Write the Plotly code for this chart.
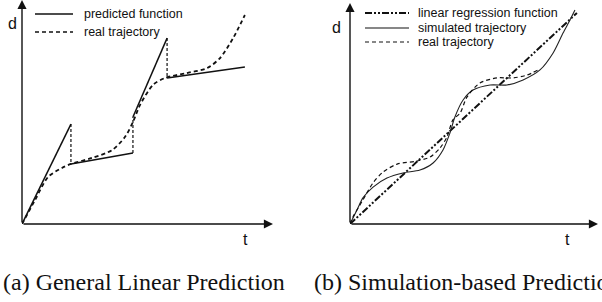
import plotly.graph_objects as go

# ---------------- data (a) General Linear Prediction ----------------
pred_t_start = [0.0, 1.95, 4.42, 5.78]
pred_d_start = [0.0, 2.68, 4.78, 6.52]
pred_t_end = [1.95, 4.42, 5.78, 8.88]
pred_d_end = [4.46, 3.17, 8.30, 7.01]

real_a_t = [0.0, 0.52, 1.04, 1.59, 1.95, 2.79, 3.59, 4.10, 4.42, 4.70, 5.22, 5.70,
            6.57, 7.37, 7.89, 8.41, 8.88]
real_a_d = [0.0, 1.07, 2.10, 2.50, 2.68, 2.95, 3.30, 3.88, 4.55, 5.31, 6.21, 6.52,
            6.74, 6.96, 7.41, 8.30, 9.33]

# ---------------- data (b) Simulation-based Prediction ----------------
lin_t = [0.0, 9.15]
lin_d = [0.0, 9.55]

sim_t = [0.0, 0.28, 0.52, 0.93, 1.49, 2.14, 2.82, 3.35, 3.75, 4.03, 4.23, 4.56, 4.96,
         5.65, 6.33, 6.98, 7.66, 8.19, 8.59, 8.87, 9.07]
sim_d = [0.0, 0.63, 1.18, 1.67, 2.08, 2.31, 2.44, 2.76, 3.35, 4.12, 4.84, 5.61, 6.06,
         6.29, 6.29, 6.52, 6.97, 7.74, 8.64, 9.23, 9.68]

real_b_t = [0.0, 0.12, 0.52, 0.93, 1.33, 1.90, 2.70, 3.23, 3.63, 3.91, 4.15, 4.44, 4.72,
            5.24, 5.93, 6.57, 7.14, 7.58]
real_b_d = [0.0, 0.32, 1.09, 1.86, 2.35, 2.71, 2.85, 3.03, 3.44, 3.94, 4.71, 5.02, 5.75,
            6.38, 6.61, 6.61, 6.74, 6.97]

legend_a = ["predicted function", "real trajectory"]
legend_b = ["linear regression function", "simulated trajectory", "real trajectory"]
captions = ["(a) General Linear Prediction", "(b) Simulation-based Prediction"]

W, H = 602, 302
def px(x):
    return x / W
def py(y):
    return 1 - y / H

fig = go.Figure()

BLACK = "#111111"
DASH = "4px,3px"

# ---- panel (a) ----
for ts, ds, te, de in zip(pred_t_start, pred_d_start, pred_t_end, pred_d_end):
    fig.add_trace(go.Scatter(x=[ts, te], y=[ds, de], mode="lines",
                             line=dict(color=BLACK, width=1.5),
                             xaxis="x", yaxis="y", showlegend=False, hoverinfo="skip"))
# vertical correction jumps
for i in range(len(pred_t_end) - 1):
    fig.add_trace(go.Scatter(x=[pred_t_end[i], pred_t_start[i + 1]],
                             y=[pred_d_end[i], pred_d_start[i + 1]], mode="lines",
                             line=dict(color=BLACK, width=1.2, dash="3px,2px"),
                             xaxis="x", yaxis="y", showlegend=False, hoverinfo="skip"))
fig.add_trace(go.Scatter(x=real_a_t, y=real_a_d, mode="lines",
                         line=dict(color=BLACK, width=1.8, dash=DASH, shape="spline", smoothing=0.8),
                         xaxis="x", yaxis="y", showlegend=False, hoverinfo="skip"))

# ---- panel (b) ----
fig.add_trace(go.Scatter(x=lin_t, y=lin_d, mode="lines",
                         line=dict(color=BLACK, width=2, dash="7px,2px,2px,2px,2px,2px"),
                         xaxis="x2", yaxis="y2", showlegend=False, hoverinfo="skip"))
fig.add_trace(go.Scatter(x=sim_t, y=sim_d, mode="lines",
                         line=dict(color="#222222", width=1.1, shape="spline", smoothing=0.8),
                         xaxis="x2", yaxis="y2", showlegend=False, hoverinfo="skip"))
fig.add_trace(go.Scatter(x=real_b_t, y=real_b_d, mode="lines",
                         line=dict(color=BLACK, width=1.2, dash=DASH, shape="spline", smoothing=0.8),
                         xaxis="x2", yaxis="y2", showlegend=False, hoverinfo="skip"))

ax_common = dict(showgrid=False, zeroline=False, showline=False, showticklabels=False,
                 ticks="", fixedrange=True)
fig.update_layout(
    width=W, height=H,
    margin=dict(l=0, r=0, t=0, b=0),
    paper_bgcolor="white", plot_bgcolor="rgba(0,0,0,0)",
    xaxis=dict(domain=[px(22), px(273)], range=[0, 10], **ax_common),
    yaxis=dict(domain=[py(224), py(0)], range=[0, 10], **ax_common),
    xaxis2=dict(domain=[px(350), px(598)], range=[0, 10], anchor="y2", **ax_common),
    yaxis2=dict(domain=[py(224), py(3)], range=[0, 10], anchor="x2", **ax_common),
    font=dict(family="Liberation Sans, Arial, sans-serif", color=BLACK),
)

annotations = []
# axis arrows
for xr, yr in [("x", "y"), ("x2", "y2")]:
    annotations.append(dict(x=10, y=0, ax=0, ay=0, xref=xr, yref=yr, axref=xr, ayref=yr,
                            showarrow=True, arrowhead=2, arrowsize=1.3, arrowwidth=1.4,
                            arrowcolor=BLACK, text="", standoff=0))
    annotations.append(dict(x=0, y=10, ax=0, ay=0, xref=xr, yref=yr, axref=xr, ayref=yr,
                            showarrow=True, arrowhead=2, arrowsize=1.3, arrowwidth=1.4,
                            arrowcolor=BLACK, text="", standoff=0))

# axis labels
for (lx, ly, txt) in [(12, 23, "d"), (245, 240, "t"), (337, 27, "d"), (567, 240, "t")]:
    annotations.append(dict(x=px(lx), y=py(ly), xref="paper", yref="paper", text=txt,
                            showarrow=False, font=dict(size=16, color=BLACK),
                            xanchor="center", yanchor="middle"))

# legends (manual)
shapes = []
leg_a_styles = [dict(color=BLACK, width=1.5), dict(color=BLACK, width=1.3, dash=DASH)]
for i, (lab, st) in enumerate(zip(legend_a, leg_a_styles)):
    yy = [14, 32][i]
    shapes.append(dict(type="line", xref="paper", yref="paper", x0=px(35), x1=px(73),
                       y0=py(yy), y1=py(yy), line=st))
    annotations.append(dict(x=px(82), y=py(yy), xref="paper", yref="paper", text=lab,
                            showarrow=False, xanchor="left", yanchor="middle",
                            font=dict(size=12.5, color=BLACK)))
leg_b_styles = [dict(color=BLACK, width=2, dash="7px,2px,2px,2px,2px,2px"),
                dict(color=BLACK, width=1.1), dict(color=BLACK, width=1.1, dash=DASH)]
for i, (lab, st) in enumerate(zip(legend_b, leg_b_styles)):
    yy = [13, 28, 42][i]
    shapes.append(dict(type="line", xref="paper", yref="paper", x0=px(365), x1=px(409),
                       y0=py(yy), y1=py(yy), line=st))
    annotations.append(dict(x=px(416), y=py(yy), xref="paper", yref="paper", text=lab,
                            showarrow=False, xanchor="left", yanchor="middle",
                            font=dict(size=12.5, color=BLACK)))

# captions
for cx, cap in zip([1, 312], captions):
    annotations.append(dict(x=px(cx), y=py(282), xref="paper", yref="paper", text=cap,
                            showarrow=False, xanchor="left", yanchor="middle",
                            font=dict(family="Liberation Serif, Times New Roman, serif",
                                      size=24, color=BLACK)))

fig.update_layout(annotations=annotations, shapes=shapes)
fig.write_html("out.html", config={"displayModeBar": False},
               post_script="document.body.style.margin='0';document.body.style.overflow='hidden';")
